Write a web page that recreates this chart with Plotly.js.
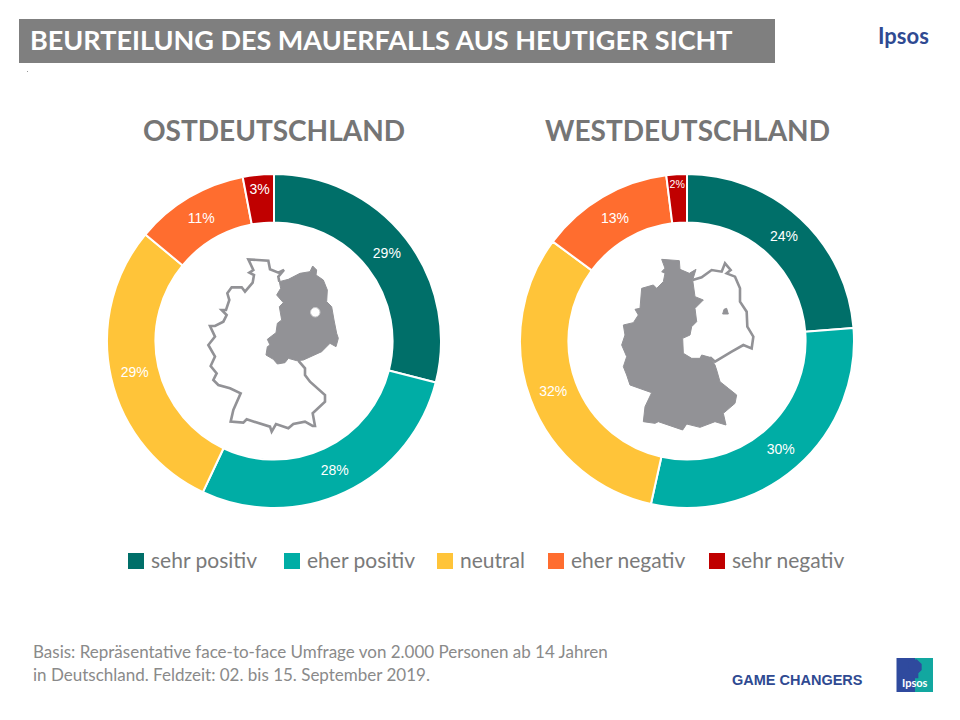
<!DOCTYPE html>
<html>
<head>
<meta charset="utf-8">
<script src="https://cdn.plot.ly/plotly-3.0.1.min.js"></script>
<style>
  html, body { margin: 0; padding: 0; background: #fff; }
  #chart { width: 960px; height: 720px; }
</style>
</head>
<body>
<div id="chart"></div>
<script>
// Beurteilung des Mauerfalls, Ost vs West
const categories = ["sehr positiv", "eher positiv", "neutral", "eher negativ", "sehr negativ"];
const ostValues = [29, 28, 29, 11, 3];
const westValues = [24, 30, 32, 13, 2];
const sliceColors = ["#006f69", "#00ada5", "#ffc439", "#ff6d2f", "#c00000"];

const W = 960, H = 720;
const grey = "#7f7f7f";
const mapGrey = "#929296";
const ipsosBlue = "#2f4a92";

// px -> paper helpers, the whole page is the paper (margins are 0)
const px = x => x / W;
const py = y => 1 - y / H;

// map outlines were traced on 3x crops, so they are scaled back here
function cropPath(pts, ox, oy, close) {
  const d = pts.map((p, i) =>
    (i ? "L" : "M") + px(ox + p[0] / 3).toFixed(5) + " " + py(oy + p[1] / 3).toFixed(5));
  return d.join(" ") + (close ? " Z" : "");
}

const ostFilled = [[268,125],[295,118],[330,100],[360,95],[368,78],[380,90],[378,105],[400,120],[412,150],[410,185],[425,200],[432,240],[440,280],[445,295],[438,320],[420,310],[395,335],[340,360],[320,362],[295,355],[285,368],[262,372],[250,358],[228,345],[232,320],[240,315],[232,298],[258,278],[262,250],[275,240],[268,200],[280,188],[260,165],[272,145]];
const ostOutline = [[268,125],[265,110],[282,90],[265,98],[240,88],[235,62],[175,58],[190,90],[178,98],[192,105],[188,128],[165,155],[155,142],[125,142],[112,160],[118,180],[108,210],[95,210],[110,225],[100,245],[75,258],[60,258],[75,290],[55,315],[75,350],[62,378],[80,400],[70,420],[85,435],[120,445],[152,460],[130,510],[122,545],[160,548],[170,538],[240,560],[245,575],[258,552],[295,565],[310,552],[345,545],[368,558],[375,558],[368,520],[405,485],[405,465],[360,425],[345,405],[345,385],[325,362]];
const westFilled = [[185,58],[238,62],[240,88],[268,100],[288,88],[278,120],[285,170],[310,180],[285,205],[290,245],[275,260],[270,285],[248,295],[250,340],[275,355],[300,355],[305,345],[330,352],[345,375],[350,390],[360,425],[385,445],[410,465],[405,490],[370,520],[378,555],[345,545],[300,562],[260,552],[248,570],[175,545],[165,550],[130,545],[135,500],[155,458],[90,435],[80,405],[70,380],[80,350],[65,315],[75,285],[70,255],[100,248],[115,225],[105,208],[120,205],[125,145],[160,135],[170,145],[190,125],[195,100],[185,95],[195,85]];
const westOutline = [[278,120],[305,112],[335,90],[365,95],[375,70],[392,90],[380,100],[405,110],[420,145],[420,185],[440,215],[442,260],[460,290],[455,325],[430,315],[395,335],[345,365],[330,352]];
const berlinWest = [[368,222],[372,208],[380,205],[385,222]];
const head = [[628,62],[650,58],[665,72],[665,90],[655,100],[655,115],[640,115],[640,100],[628,90],[625,75]];

function pieTrace(values, cx) {
  const cy = 341, r = 167;
  return {
    type: "pie",
    labels: categories,
    values: values,
    sort: false,
    direction: "clockwise",
    rotation: 0,
    hole: 0.71,
    domain: { x: [px(cx - r), px(cx + r)], y: [py(cy + r), py(cy - r)] },
    marker: { colors: sliceColors, line: { color: "#fff", width: 2 } },
    texttemplate: "%{value}%",
    textposition: "inside",
    insidetextorientation: "horizontal",
    insidetextfont: { family: "Liberation Sans, Arial, sans-serif", size: 14, color: "#fff" },
    hoverinfo: "label+value"
  };
}

const shapes = [
  { type: "rect", xref: "paper", yref: "paper", x0: px(19), x1: px(775), y0: py(63), y1: py(19), fillcolor: grey, line: { width: 0 } },
  { type: "rect", xref: "paper", yref: "paper", x0: px(27), x1: px(28), y0: py(72), y1: py(71), fillcolor: "#999", line: { width: 0 } },
  // left map
  { type: "path", xref: "paper", yref: "paper", path: cropPath(ostOutline, 190, 240, false), line: { color: mapGrey, width: 2.6 } },
  { type: "path", xref: "paper", yref: "paper", path: cropPath(ostFilled, 190, 240, true), fillcolor: mapGrey, line: { color: mapGrey, width: 1 } },
  { type: "circle", xref: "paper", yref: "paper", x0: px(310.5), x1: px(320), y0: py(317), y1: py(307.5), fillcolor: "#fff", line: { color: "#c8c8ca", width: 1 } },
  // right map
  { type: "path", xref: "paper", yref: "paper", path: cropPath(westOutline, 600, 240, false), line: { color: mapGrey, width: 2.6 } },
  { type: "path", xref: "paper", yref: "paper", path: cropPath(westFilled, 600, 240, true), fillcolor: mapGrey, line: { color: mapGrey, width: 1 } },
  { type: "path", xref: "paper", yref: "paper", path: cropPath(berlinWest, 600, 240, true), fillcolor: mapGrey, line: { color: mapGrey, width: 1 } },
  // bottom logo
  { type: "rect", xref: "paper", yref: "paper", x0: px(896.5), x1: px(915), y0: py(692), y1: py(658), fillcolor: "#2f4a9e", line: { width: 0 } },
  { type: "rect", xref: "paper", yref: "paper", x0: px(915), x1: px(933), y0: py(692), y1: py(658), fillcolor: "#12a7a0", line: { width: 0 } },
  { type: "path", xref: "paper", yref: "paper", path: cropPath(head, 700, 640, true), fillcolor: "#2f4a9e", line: { width: 0 } }
];

// legend: swatch + text, spaced like the slide
const legendX = [128, 284, 437, 548, 709];
categories.forEach((c, i) => {
  shapes.push({ type: "rect", xref: "paper", yref: "paper", x0: px(legendX[i]), x1: px(legendX[i] + 16), y0: py(569), y1: py(553), fillcolor: sliceColors[i], line: { width: 0 } });
});

function note(text, x, y, size, color, family, anchor, bold) {
  return {
    xref: "paper", yref: "paper", x: px(x), y: py(y), xanchor: anchor || "left", yanchor: "middle",
    showarrow: false, align: "left",
    text: bold ? "<b>" + text + "</b>" : text,
    font: { family: family, size: size, color: color }
  };
}

const lato = "Lato, sans-serif";
const annotations = [
  note("BEURTEILUNG DES MAUERFALLS AUS HEUTIGER SICHT", 28, 39, 27, "#fff", lato, "left", true),
  note("OSTDEUTSCHLAND", 274, 130, 28, "#757575", lato, "center", true),
  note("WESTDEUTSCHLAND", 687, 130, 28, "#757575", lato, "center", true),
  note("Ipsos", 903, 35, 22, ipsosBlue, lato, "center", true),
  note("Basis: Repräsentative face-to-face Umfrage von 2.000 Personen ab 14 Jahren", 31, 651, 17, "#8a8a8a", lato),
  note("in Deutschland. Feldzeit: 02. bis 15. September 2019.", 31, 674, 17, "#8a8a8a", lato),
  note("GAME CHANGERS", 730, 680, 14.5, ipsosBlue, "Liberation Sans, Arial, sans-serif", "left", true),
  note("Ipsos", 914.5, 682, 11, "#fff", lato, "center", true)
];
categories.forEach((c, i) => {
  annotations.push(note(c, legendX[i] + 21, 559, 21, "#7a7a7a", lato));
});

const layout = {
  width: W,
  height: H,
  margin: { l: 0, r: 0, t: 0, b: 0 },
  paper_bgcolor: "#fff",
  showlegend: false,
  shapes: shapes,
  annotations: annotations
};

Plotly.newPlot("chart", [pieTrace(ostValues, 274), pieTrace(westValues, 687)], layout, { staticPlot: true, displayModeBar: false });
</script>
</body>
</html>
